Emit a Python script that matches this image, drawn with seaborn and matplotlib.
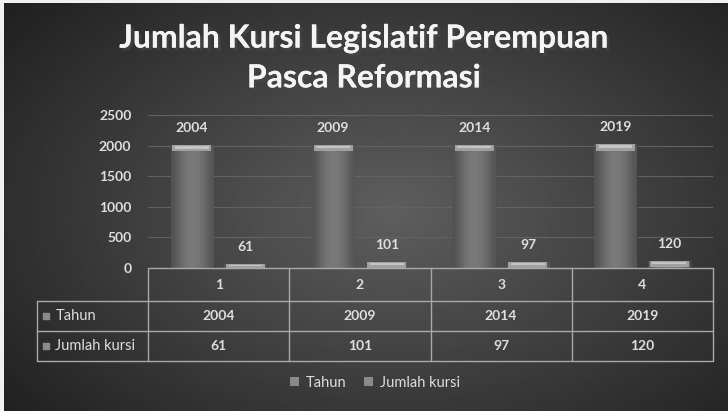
import numpy as np
import pandas as pd
import matplotlib
matplotlib.use("Agg")
import matplotlib.pyplot as plt
import matplotlib.patheffects as pe
from matplotlib.patches import Rectangle, Patch
import seaborn as sns

# data
kategori = ["1", "2", "3", "4"]
tahun = [2004, 2009, 2014, 2019]
jumlah_kursi = [61, 101, 97, 120]
seri = ["Tahun", "Jumlah kursi"]
y_ticks = [0, 500, 1000, 1500, 2000, 2500]

df = pd.DataFrame({
    "Kategori": kategori * 2,
    "Seri": [seri[0]] * 4 + [seri[1]] * 4,
    "Nilai": tahun + jumlah_kursi,
})

sns.set_theme(style="white")
plt.rcParams["font.family"] = ["Lato", "DejaVu Sans"]

txt = "#dedede"
W, H = 728, 411
fig = plt.figure(figsize=(W / 100, H / 100), dpi=100)
fig.patch.set_facecolor("#f0f0f0")

# dark radial background
bg = fig.add_axes([4 / W, 0, 1 - 4 / W, 1 - 3 / H])
yy, xx = np.mgrid[0:H, 0:W]
r = np.sqrt(((xx - 390) / 520) ** 2 + ((yy - 210) / 330) ** 2)
shade = np.clip(0.37 - 0.25 * r, 0.09, 0.4)
bg.imshow(shade, cmap="gray", vmin=0, vmax=1, aspect="auto", interpolation="bilinear")
bg.axis("off")

# main plot area
ax = fig.add_axes([148 / W, 1 - 268 / H, (713 - 148) / W, (268 - 115) / H])
ax.patch.set_alpha(0)
sns.barplot(data=df, x="Kategori", y="Nilai", hue="Seri", hue_order=seri,
            order=kategori, width=0.76, gap=0.21, color="#6e6e6e",
            edgecolor="#3e3e3e", linewidth=0.8, legend=False, ax=ax)

# shaded bars with light top bevel
grad = np.array([[0.32, 0.41, 0.46, 0.48, 0.46, 0.42, 0.33]])
for p in ax.patches:
    x0, w, h = p.get_x(), p.get_width(), p.get_height()
    im = ax.imshow(grad, cmap="gray", vmin=0, vmax=1, aspect="auto",
                   extent=[x0, x0 + w, 0, h], interpolation="bicubic", zorder=2)
    im.set_clip_path(p)
    band = min(h, 100)
    ax.add_patch(Rectangle((x0 + w * 0.04, h - band), w * 0.92, band,
                           color="#a0a0a0", lw=0, zorder=3))
    ax.add_patch(Rectangle((x0 + w * 0.1, h - band * 0.55), w * 0.8, band * 0.4,
                           color="#c4c4c4", lw=0, zorder=3))

for c in ax.containers:
    ax.bar_label(c, padding=8, color=txt, fontsize=10, fontweight="bold")

ax.set_xlim(-0.5, 3.5)
ax.set_ylim(0, 2500)
ax.set_yticks(y_ticks)
ax.set_yticklabels([str(v) for v in y_ticks], color=txt, fontsize=10, fontweight="bold")
ax.tick_params(axis="y", length=0, pad=12)
ax.set_xticks([])
ax.set_xlabel("")
ax.set_ylabel("")
ax.yaxis.grid(True, color="#626262", lw=0.8)
ax.set_axisbelow(True)
for s in ax.spines.values():
    s.set_visible(False)

# data table below the axis
tr = ax.get_xaxis_transform()
rows = [0, -0.216, -0.412, -0.608]
left = -1.286
lc = "#a9a9a9"
ax.plot([-0.5, 3.5], [rows[0], rows[0]], color=lc, lw=1, transform=tr, clip_on=False)
for yv in rows[1:]:
    ax.plot([left, 3.5], [yv, yv], color=lc, lw=1, transform=tr, clip_on=False)
for xv in np.arange(-0.5, 3.6, 1):
    ax.plot([xv, xv], [rows[0], rows[3]], color=lc, lw=1, transform=tr, clip_on=False)
ax.plot([left, left], [rows[1], rows[3]], color=lc, lw=1, transform=tr, clip_on=False)

for i, k in enumerate(kategori):
    ax.text(i, (rows[0] + rows[1]) / 2, k, transform=tr, ha="center", va="center",
            color=txt, fontsize=10, fontweight="bold")
    ax.text(i, (rows[1] + rows[2]) / 2, str(tahun[i]), transform=tr, ha="center",
            va="center", color=txt, fontsize=10, fontweight="bold")
    ax.text(i, (rows[2] + rows[3]) / 2, str(jumlah_kursi[i]), transform=tr, ha="center",
            va="center", color=txt, fontsize=10, fontweight="bold")

for j, name in enumerate(seri):
    ym = (rows[j + 1] + rows[j + 2]) / 2
    ax.scatter([left + 0.065], [ym], marker="s", s=22, color="#8a8a8a",
               transform=tr, clip_on=False)
    ax.text(left + 0.13, ym, name, transform=tr, ha="left", va="center",
            color=txt, fontsize=10.5)

# legend
handles = [Patch(facecolor="#8a8a8a", edgecolor="none", label=s) for s in seri]
fig.legend(handles=handles, loc="center", bbox_to_anchor=(375 / W, 1 - 383 / H),
           ncol=2, frameon=False, fontsize=10.5, labelcolor=txt,
           handlelength=0.6, handleheight=0.6, handletextpad=0.5, columnspacing=1.2)

fig.text(0.5, 1 - 58 / H, "Jumlah Kursi Legislatif Perempuan\nPasca Reformasi",
         ha="center", va="center", color="#f4f4f4", fontsize=23, fontweight="bold",
         linespacing=1.45,
         path_effects=[pe.withSimplePatchShadow(offset=(2, -2), alpha=0.6), pe.Normal()])

fig.savefig("out.png", dpi=100)
